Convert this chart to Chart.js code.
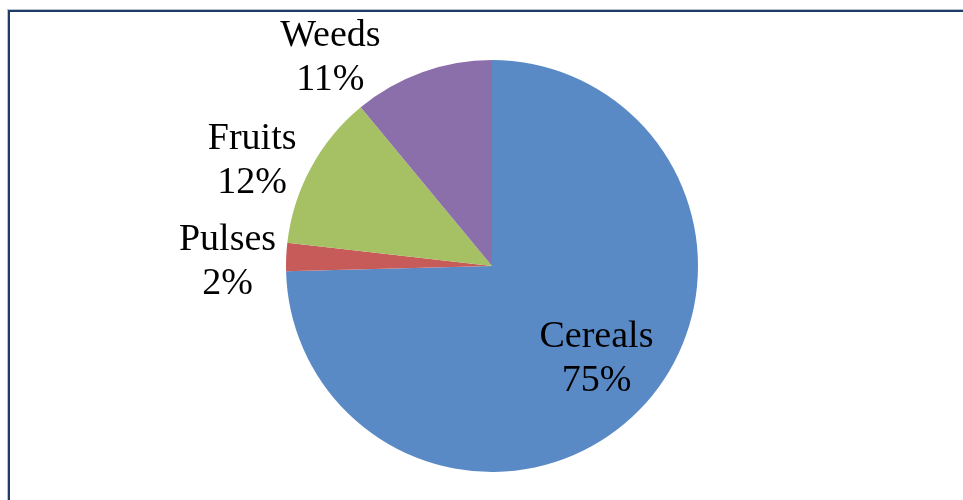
<!DOCTYPE html>
<html>
<head>
<meta charset="utf-8">
<script src="https://cdn.jsdelivr.net/npm/chart.js@4.4.1/dist/chart.umd.min.js"></script>
<style>
    html, body { margin: 0; padding: 0; background: #fff; }
    #wrap { position: relative; width: 963px; height: 500px; overflow: hidden; }
    #frame {
        position: absolute; left: 8px; top: 10px; width: 1000px; height: 600px;
        border-left: 2px solid #1F3B66; border-top: 2px solid #1F3B66;
        box-shadow: -1px -1px 0 #B8C2D0;
    }
    #box { position: absolute; left: 0; top: 0; width: 963px; height: 500px; }
</style>
</head>
<body>
<div id="wrap">
    <div id="frame"></div>
    <div id="box"><canvas id="myChart"></canvas></div>
</div>
<script>
    const categories = ["Cereals", "Pulses", "Fruits", "Weeds"];
    const shares = [74.6, 2.2, 12.2, 11.0];
    const colors = ["#5A8AC6", "#C65B59", "#A5C163", "#8B6FAA"];

    // label placement (style only): radius factor, angle nudge in degrees
    const labelRadius = [0.68, 1.284, 1.27, 1.28];
    const labelNudge = [-2.5, -1.7, -4.9, -18];

    const sliceLabels = {
        id: "sliceLabels",
        afterDatasetsDraw: function(chart) {
            const ctx = chart.ctx;
            const meta = chart.getDatasetMeta(0);
            const total = shares.reduce((a, b) => a + b, 0);
            ctx.save();
            ctx.font = "38px 'Liberation Serif', 'Times New Roman', serif";
            ctx.fillStyle = "#000";
            ctx.textAlign = "center";
            ctx.textBaseline = "middle";
            meta.data.forEach(function(arc, i) {
                const p = arc.getProps(["x", "y", "startAngle", "endAngle", "outerRadius"], true);
                const mid = (p.startAngle + p.endAngle) / 2 + labelNudge[i] * Math.PI / 180;
                const dist = p.outerRadius * labelRadius[i];
                const cx = p.x + Math.cos(mid) * dist;
                const cy = p.y + Math.sin(mid) * dist;
                const pct = Math.round(shares[i] / total * 100) + "%";
                ctx.fillText(categories[i], cx, cy - 22);
                ctx.fillText(pct, cx, cy + 22);
            });
            ctx.restore();
        }
    };

    new Chart("myChart", {
        type: "pie",
        data: {
            labels: categories,
            datasets: [{
                data: shares,
                backgroundColor: colors,
                borderWidth: 0
            }]
        },
        options: {
            responsive: true,
            maintainAspectRatio: false,
            animation: false,
            layout: { padding: { left: 286, right: 265, top: 60, bottom: 28 } },
            plugins: {
                legend: { display: false },
                tooltip: { enabled: false }
            }
        },
        plugins: [sliceLabels]
    });
</script>
</body>
</html>
